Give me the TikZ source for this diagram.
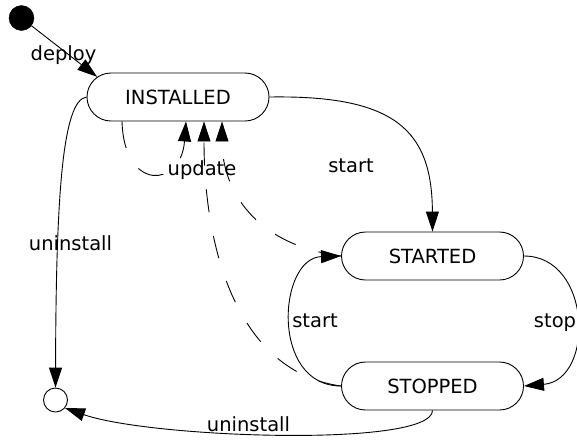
\documentclass[tikz,border=0pt]{standalone}
\usepackage{fontspec}
\setmainfont{DejaVu Sans}
\usetikzlibrary{calc,arrows.meta,shapes.misc}

\tikzset{
  statebox/.style={draw, rounded rectangle, minimum width=182pt, minimum height=48pt, inner sep=0pt, line width=0.9pt},
  trans/.style={line width=0.9pt, -{Triangle[length=20pt,width=13pt]}},
  updline/.style={trans, dash pattern=on 23pt off 24pt},
  lbl/.style={inner sep=0pt, anchor=base}
}

\begin{document}
\begin{tikzpicture}[x=1pt, y=-1pt, font=\fontsize{19.5}{23}\selectfont]

    % Page frame, measured in pixels of the original picture
    \useasboundingbox (0,0) rectangle (577,440);

    % Start and end points of the life cycle
    \node[circle, fill=black, draw, minimum size=25pt, inner sep=0pt] (init) at (21.5,18) {};
    \node[circle, draw, line width=0.9pt, minimum size=24pt, inner sep=0pt] (fin) at (55.5,400) {};

    % The three states
    \node[statebox] (inst) at (178,97) {INSTALLED};
    \node[statebox] (started) at (432.5,256) {STARTED};
    \node[statebox] (stopped) at (432.5,386) {STOPPED};

    % Feet of the three update arrows under INSTALLED
    \coordinate (self) at ($(inst.south)+(-56,0)$);
    \coordinate (u1) at ($(inst.south)+(8,0)$);
    \coordinate (u2) at ($(inst.south)+(26,0)$);
    \coordinate (u3) at ($(inst.south)+(44,0)$);

    % Solid transitions
    \draw[trans] (init) -- (inst.166); % deploy
    \draw[trans] (inst.east) .. controls (395,95) and (432,130) .. (started.north); % start
    \draw[trans] (inst.west) .. controls (62,100) and (56,200) .. (fin.north); % uninstall
    \draw[trans] (started.east) .. controls (592,256) and (595,380) .. (stopped.east); % stop
    \draw[trans] (stopped.west) .. controls (270,386) and (278,258) .. (started.west); % start again
    \draw[trans] (stopped.south) .. controls (432,448) and (150,438) .. (fin.-40); % uninstall

    % Dashed update transitions back to INSTALLED
    \draw[updline, dash pattern=on 27pt off 24pt] (self) .. controls (124,192) and (181,188) .. (u1);
    \draw[updline] (stopped.west) .. controls (238,372) and (204,250) .. (u2);
    \draw[updline] (started.west) .. controls (255,245) and (222,190) .. (u3);

    % Transition labels, placed on their baselines
    \node[lbl] (ldeploy) at (63.5,60) {deploy};
    \node[lbl] (lstart) at (351,172) {start};
    \node[lbl] (lunin) at (70.5,250) {uninstall};
    \node[lbl] (lupdate) at (202,175) {update};
    \node[lbl] (lstop) at (555,327) {stop};
    \node[lbl] (lrestart) at (315,327) {start};
    \node[lbl] (lunin2) at (248.5,431) {uninstall};

\end{tikzpicture}
\end{document}
